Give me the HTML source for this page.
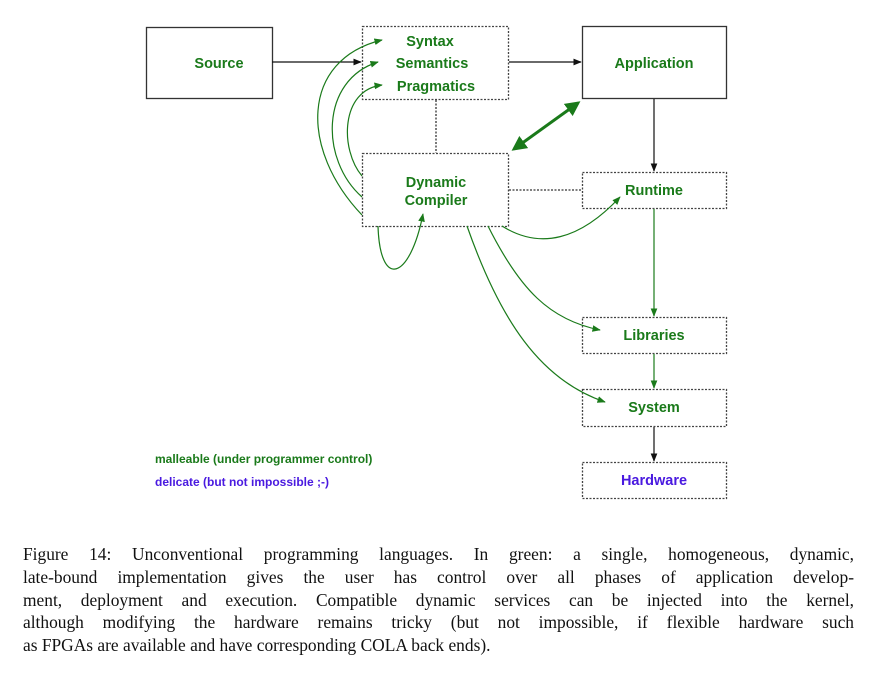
<!DOCTYPE html>
<html><head><style>
body{margin:0;background:#fff;width:873px;height:677px;overflow:hidden;position:relative}
svg{position:absolute;left:0;top:0}
.cap{position:absolute;left:23px;top:543px;width:831px;font-family:"Liberation Serif",serif;font-size:17.4px;line-height:22.8px;color:#111}
.cap div{text-align:justify;text-align-last:justify;white-space:nowrap}
.cap div.l{text-align-last:left}
</style></head><body>
<svg width="873" height="677" viewBox="0 0 873 677">
<defs>
<marker id="k" viewBox="0 0 10 10" refX="9" refY="5" markerWidth="7" markerHeight="7" orient="auto"><path d="M0,1 L10,5 L0,9z" fill="#111"/></marker>
<marker id="g" viewBox="0 0 10 10" refX="9" refY="5" markerWidth="7" markerHeight="7" orient="auto"><path d="M0,1 L10,5 L0,9z" fill="#1a7a1a"/></marker>
<marker id="g2" viewBox="0 0 10 10" refX="8" refY="5" markerWidth="5" markerHeight="5" orient="auto-start-reverse"><path d="M0,0 L10,5 L0,10z" fill="#1a7a1a"/></marker>
</defs>
<g font-family="Liberation Sans,sans-serif" font-weight="bold" font-size="14.5" text-anchor="middle" fill="#1a7a1a">
<rect x="146.5" y="27.5" width="126" height="71" fill="none" stroke="#333" stroke-width="1.3"/>
<text x="219" y="68">Source</text>
<rect x="362.5" y="26.5" width="146" height="73" fill="none" stroke="#444" stroke-width="1.3" stroke-dasharray="2,1.5"/>
<text x="430" y="46">Syntax</text><text x="432" y="68">Semantics</text><text x="436" y="91">Pragmatics</text>
<rect x="582.5" y="26.5" width="144" height="72" fill="none" stroke="#333" stroke-width="1.3"/>
<text x="654" y="68">Application</text>
<rect x="362.5" y="153.5" width="146" height="73" fill="none" stroke="#444" stroke-width="1.3" stroke-dasharray="2,1.5"/>
<text x="436" y="187">Dynamic</text><text x="436" y="205">Compiler</text>
<rect x="582.5" y="172.5" width="144" height="36" fill="none" stroke="#444" stroke-width="1.3" stroke-dasharray="2,1.5"/>
<text x="654" y="195">Runtime</text>
<rect x="582.5" y="317.5" width="144" height="36" fill="none" stroke="#444" stroke-width="1.3" stroke-dasharray="2,1.5"/>
<text x="654" y="340">Libraries</text>
<rect x="582.5" y="389.5" width="144" height="37" fill="none" stroke="#444" stroke-width="1.3" stroke-dasharray="2,1.5"/>
<text x="654" y="412">System</text>
<rect x="582.5" y="462.5" width="144" height="36" fill="none" stroke="#444" stroke-width="1.3" stroke-dasharray="2,1.5"/>
<text x="654" y="485" fill="#4a1ae0">Hardware</text>
<text x="155" y="463" font-size="12" text-anchor="start">malleable (under programmer control)</text>
<text x="155" y="486" font-size="12" text-anchor="start" fill="#4a1ae0">delicate (but not impossible ;-)</text>
</g>
<g fill="none" stroke-width="1.2">
<line x1="272" y1="62" x2="361" y2="62" stroke="#111" marker-end="url(#k)"/>
<line x1="509" y1="62" x2="581" y2="62" stroke="#111" marker-end="url(#k)"/>
<line x1="654" y1="99" x2="654" y2="171" stroke="#111" marker-end="url(#k)"/>
<line x1="654" y1="427" x2="654" y2="461" stroke="#111" marker-end="url(#k)"/>
<line x1="436" y1="100" x2="436" y2="153" stroke="#333" stroke-width="1.3" stroke-dasharray="2,1.5"/>
<line x1="509" y1="190" x2="582" y2="190" stroke="#333" stroke-width="1.3" stroke-dasharray="2,1.5"/>
<g stroke="#1a7a1a">
<line x1="654" y1="209" x2="654" y2="316" marker-end="url(#g)"/>
<line x1="654" y1="354" x2="654" y2="388" marker-end="url(#g)"/>
<line x1="514" y1="149" x2="578" y2="103" stroke-width="3" marker-start="url(#g2)" marker-end="url(#g2)"/>
<path d="M362,215 C300,150 300,60 382,40" marker-end="url(#g)"/>
<path d="M362,197 C320,160 320,80 378,62" marker-end="url(#g)"/>
<path d="M362,176 C340,150 340,90 382,85" marker-end="url(#g)"/>
<path d="M378,226 C380,290 410,280 423,214" marker-end="url(#g)"/>
<path d="M502,226 C540,250 580,240 620,197" marker-end="url(#g)"/>
<path d="M488,226 C520,290 550,320 600,330" marker-end="url(#g)"/>
<path d="M467,226 C500,320 540,380 605,402" marker-end="url(#g)"/>
</g></g>
</svg>
<div class="cap">
<div>Figure 14: Unconventional programming languages. In green: a single, homogeneous, dynamic,</div>
<div>late-bound implementation gives the user has control over all phases of application develop-</div>
<div>ment, deployment and execution. Compatible dynamic services can be injected into the kernel,</div>
<div>although modifying the hardware remains tricky (but not impossible, if flexible hardware such</div>
<div class="l">as FPGAs are available and have corresponding COLA back ends).</div>
</div>
</body></html>
